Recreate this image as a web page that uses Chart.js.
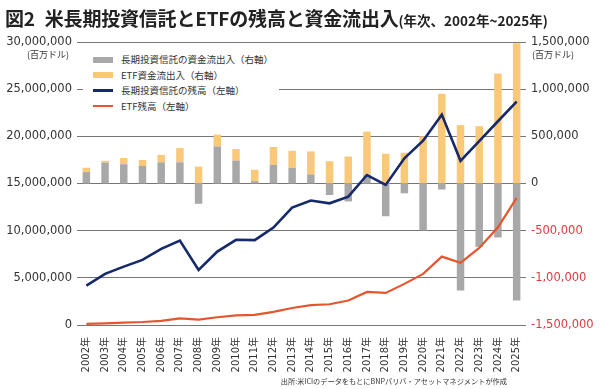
<!DOCTYPE html>
<html lang="ja">
<head>
<meta charset="utf-8">
<title>米長期投資信託とETFの残高と資金流出入</title>
<script src="https://cdn.jsdelivr.net/npm/chart.js@4.4.1/dist/chart.umd.min.js"></script>
<style>
	html, body { margin: 0; padding: 0; background: #fff; }
	#wrap { position: relative; width: 600px; height: 389px; overflow: hidden; font-family: "Noto Sans CJK JP", sans-serif; color: #333; }
	#chart { position: absolute; left: 0; top: 0; }
	.title { position: absolute; left: 5px; top: 6px; line-height: 23px; white-space: nowrap; color: #222; }
	.title .main { font-size: 19px; font-weight: 700; letter-spacing: -0.2px; }
	.title .gap { display: inline-block; width: 10px; }
	.title .sub { font-size: 13.5px; font-weight: 700; }
	.unit { position: absolute; font-size: 9px; line-height: 10px; top: 50px; color: #333; }
	.legend { position: absolute; left: 83px; top: 51px; width: 196px; height: 64px; background: #fff; }
	.legend .row { position: absolute; left: 10px; height: 15px; line-height: 15px; font-size: 9.5px; white-space: nowrap; }
	.legend .sw { position: absolute; left: 0; width: 20px; }
	.legend .txt { position: absolute; left: 28px; top: 0; }
	.source { position: absolute; right: 93px; top: 376px; font-size: 7.2px; line-height: 11px; color: #333; white-space: nowrap; }
</style>
</head>
<body>
<div id="wrap">
	<canvas id="chart" width="600" height="389"></canvas>
	<div class="title"><span class="main">図2</span><span class="gap"></span><span class="main">米長期投資信託とETFの残高と資金流出入</span><span class="sub">(年次、2002年~2025年)</span></div>
	<div class="unit" style="left:27px;">(百万ドル)</div>
	<div class="unit" style="left:532px;">(百万ドル)</div>
	<div class="legend" id="legend"></div>
	<div class="source">出所:米ICIのデータをもとにBNPパリバ・アセットマネジメントが作成</div>
</div>
<script>
// 年次
var years = ['2002年', '2003年', '2004年', '2005年', '2006年', '2007年', '2008年', '2009年',
	'2010年', '2011年', '2012年', '2013年', '2014年', '2015年', '2016年', '2017年',
	'2018年', '2019年', '2020年', '2021年', '2022年', '2023年', '2024年', '2025年'];

// 資金流出入（右軸, 百万ドル）
var ltFlows = [121000, 222000, 204000, 186000, 225000, 225000, -215000, 393000,
	243000, 25000, 197000, 165000, 97000, -122000, -190000, 95000,
	-347000, -104000, -497000, -64000, -1134000, -672000, -572000, -1241000];
var etfFlows = [46000, 18000, 66000, 64000, 78000, 150000, 179000, 125000,
	122000, 120000, 190000, 182000, 243000, 236000, 286000, 455000,
	315000, 326000, 501000, 951000, 619000, 608000, 1166000, 1488000];

// 残高（左軸, 百万ドル）
var ltAssets = [4180000, 5420000, 6190000, 6900000, 8070000, 8950000, 5840000, 7780000,
	9030000, 9000000, 10330000, 12450000, 13200000, 12900000, 13600000, 15900000,
	14850000, 17670000, 19540000, 22300000, 17400000, 19500000, 21600000, 23670000];
var etfAssets = [120000, 180000, 260000, 320000, 440000, 700000, 570000, 820000,
	1030000, 1080000, 1400000, 1800000, 2100000, 2200000, 2600000, 3500000,
	3400000, 4360000, 5420000, 7250000, 6590000, 8170000, 10360000, 13470000];

// 右軸の目盛り（下から上へ, 原図の表記のまま）
var rightTickLabels = ['-1,500,000', '-1,00,000', '-500,000', '0', '500,000', '1,000,000', '1,500,000'];

var legendItems = [
	{ label: '長期投資信託の資金流出入（右軸）', type: 'box', color: '#a8a8a8' },
	{ label: 'ETF資金流出入（右軸）', type: 'box', color: '#f9c878' },
	{ label: '長期投資信託の残高（左軸）', type: 'line', color: '#16296b', size: 3 },
	{ label: 'ETF残高（左軸）', type: 'line', color: '#e4572e', size: 2 }
];

(function () {
	'use strict';

	var NAVY = '#16296b';
	var RED = '#e4572e';
	var GRAY = '#a8a8a8';
	var YELLOW = '#f9c878';
	var NEG = '#e0393e';
	var TXT = '#333';
	var tickFont = { family: '"DejaVu Sans", "Noto Sans CJK JP", sans-serif', size: 11.5 };

	var legendEl = document.getElementById('legend');
	legendItems.forEach(function (item, i) {
		var row = document.createElement('div');
		row.className = 'row';
		row.style.top = (i * 15.5 + 1) + 'px';
		var sw = document.createElement('span');
		sw.className = 'sw';
		sw.style.background = item.color;
		var h = item.type === 'box' ? 6 : item.size;
		sw.style.height = h + 'px';
		sw.style.top = (7.5 - h / 2) + 'px';
		var txt = document.createElement('span');
		txt.className = 'txt';
		txt.textContent = item.label;
		row.appendChild(sw);
		row.appendChild(txt);
		legendEl.appendChild(row);
	});

	new Chart(document.getElementById('chart'), {
		data: {
			labels: years,
			datasets: [
				{
					type: 'line', label: '長期投資信託の残高(左軸)', data: ltAssets, yAxisID: 'yL',
					borderColor: NAVY, borderWidth: 2.6, pointRadius: 0, tension: 0, order: 0
				},
				{
					type: 'line', label: 'ETF残高(左軸)', data: etfAssets, yAxisID: 'yL',
					borderColor: RED, borderWidth: 2.2, pointRadius: 0, tension: 0, order: 0
				},
				{
					type: 'bar', label: '長期投資信託の資金流出入(右軸)', data: ltFlows, yAxisID: 'yR',
					backgroundColor: GRAY, stack: 'flows', order: 1,
					barPercentage: 0.4, categoryPercentage: 1
				},
				{
					type: 'bar', label: 'ETF資金流出入(右軸)', data: etfFlows, yAxisID: 'yR',
					backgroundColor: YELLOW, stack: 'flows', order: 2,
					barPercentage: 0.4, categoryPercentage: 1
				}
			]
		},
		options: {
			responsive: false,
			animation: false,
			devicePixelRatio: 1,
			layout: { padding: { top: 42, left: 0, right: 0, bottom: 0 } },
			plugins: { legend: { display: false }, tooltip: { enabled: false } },
			scales: {
				x: {
					stacked: true,
					grid: { display: false },
					border: { display: false },
					ticks: {
						autoSkip: false, minRotation: 90, maxRotation: 90, padding: 4,
						color: TXT, font: { family: tickFont.family, size: 10 }
					},
					afterFit: function (scale) { scale.height = 64; }
				},
				yL: {
					position: 'left',
					min: 0, max: 30000000,
					grid: { color: '#767676', lineWidth: 1, drawTicks: false },
					border: { display: false },
					ticks: {
						stepSize: 5000000, padding: 5, color: TXT, font: tickFont,
						callback: function (v) { return Number(v).toLocaleString('en-US'); }
					},
					afterFit: function (scale) { scale.width = 77; }
				},
				yR: {
					position: 'right',
					stacked: true,
					min: -1500000, max: 1500000,
					grid: { display: false, drawTicks: false },
					border: { display: false },
					ticks: {
						stepSize: 500000, padding: 5, font: tickFont,
						color: function (ctx) { return ctx.tick && ctx.tick.value < 0 ? NEG : TXT; },
						callback: function (v, i) { return rightTickLabels[i]; }
					},
					afterFit: function (scale) { scale.width = 74; }
				}
			}
		}
	});
})();
</script>
</body>
</html>
